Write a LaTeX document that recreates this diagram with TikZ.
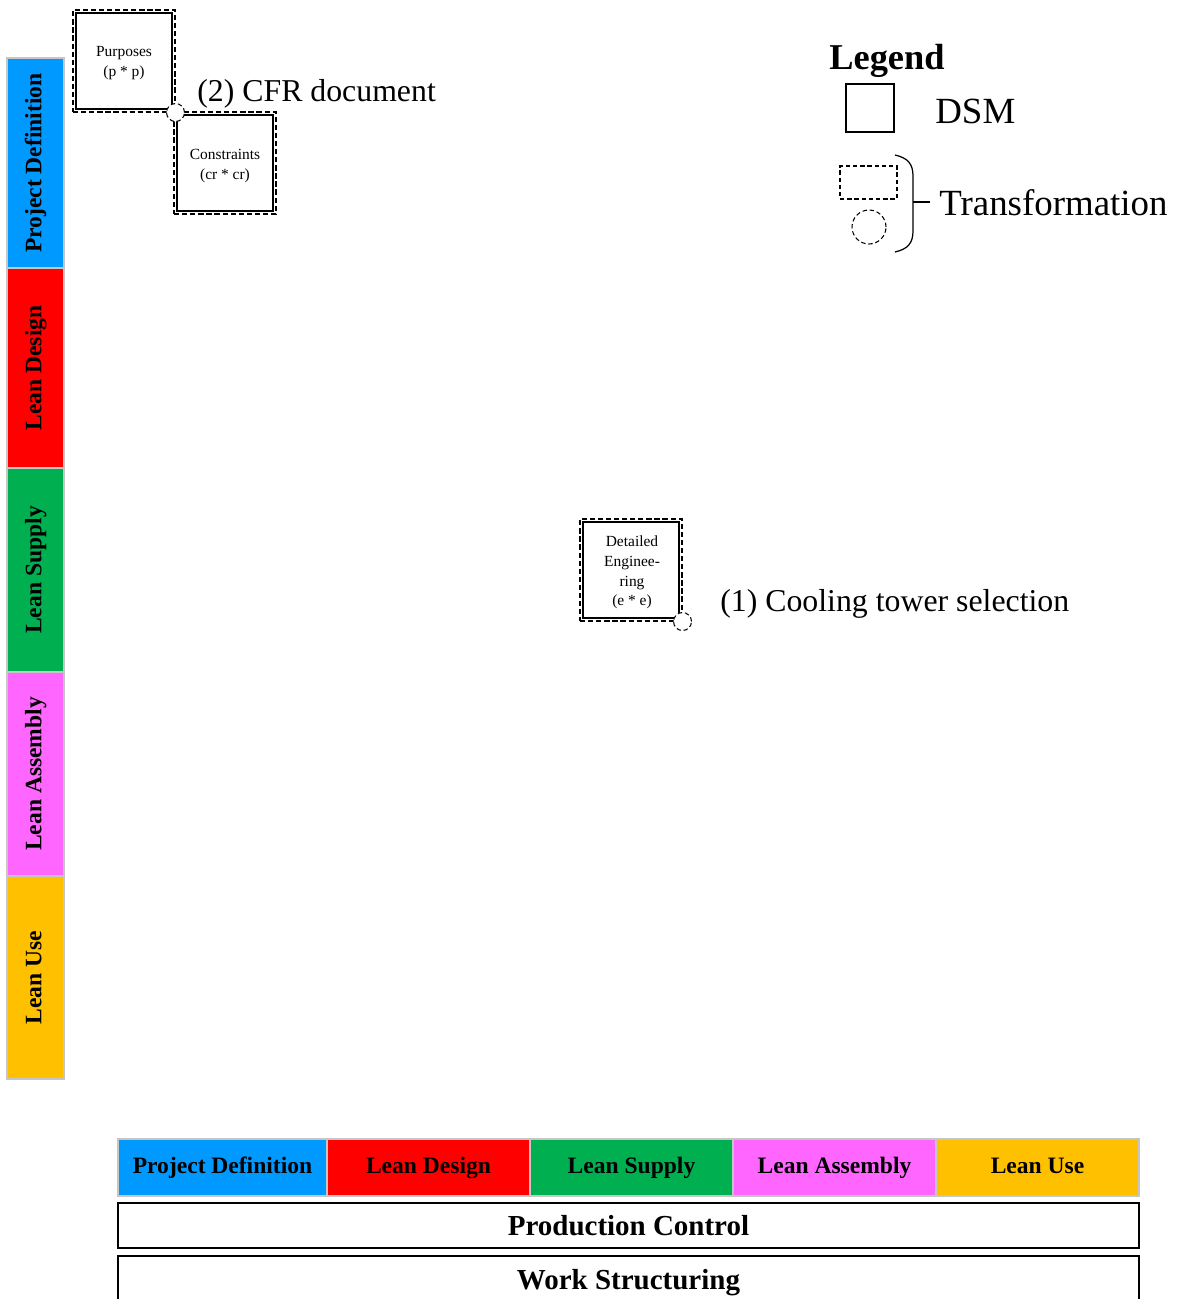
\documentclass[tikz,border=0pt]{standalone}
\usepackage{fontspec}
\setmainfont{Liberation Serif}
\usetikzlibrary{calc}

\definecolor{pdblue}{HTML}{0099FF}
\definecolor{ldred}{HTML}{FF0000}
\definecolor{lsgreen}{HTML}{00B050}
\definecolor{lapink}{HTML}{FF66FF}
\definecolor{luorange}{HTML}{FFC000}

\begin{document}
\begin{tikzpicture}[x=0.02cm, y=-0.02cm,
  phase/.style={draw=gray!45, line width=0.6pt, inner sep=0pt,
    text height=0.66em, text depth=0pt,
    font=\fontsize{13.4}{16}\selectfont\bfseries},
  hphase/.style={phase, minimum height=1.14cm},
  vphase/.style={phase, rotate=90, minimum height=1.14cm},
  band/.style={draw, line width=1.5pt, inner sep=0pt, minimum width=20.42cm,
    font=\fontsize{16.5}{19}\selectfont\bfseries},
  dsmbox/.style={draw, line width=0.6pt, minimum size=1.92cm, inner sep=0pt},
  dsmtext/.style={inner sep=0pt, align=center, font=\fontsize{8.8}{11.2}\selectfont},
  dsmframe/.style={draw, line width=0.6pt, dash pattern=on 3pt off 1.6pt,
    minimum size=2.04cm, inner sep=0pt},
  joint/.style={circle, draw, fill=white, line width=0.6pt,
    dash pattern=on 2.5pt off 1.6pt, minimum size=0.36cm, inner sep=0pt},
  caption/.style={anchor=west, inner sep=0pt, font=\fontsize{18.1}{21}\selectfont},
  legendtext/.style={anchor=west, inner sep=0pt, font=\fontsize{21}{24}\selectfont}
]
\useasboundingbox (0,0) rectangle (1178,1299);
\clip (0,0) rectangle (1178,1299);

% Vertical phase bar
\node[vphase, fill=pdblue,   minimum width=4.20cm] (vpd) at (35.5,163)   {Project Definition};
\node[vphase, fill=ldred,    minimum width=4.00cm] (vld) at (35.5,368)   {Lean Design};
\node[vphase, fill=lsgreen,  minimum width=4.08cm] (vls) at (35.5,570)   {Lean Supply};
\node[vphase, fill=lapink,   minimum width=4.08cm] (vla) at (35.5,774)   {Lean Assembly};
\node[vphase, fill=luorange, minimum width=4.06cm] (vlu) at (35.5,977.5) {Lean Use};

% Horizontal phase bar
\node[hphase, fill=pdblue,   minimum width=4.18cm] (hpd) at (222.5,1167.5)  {Project Definition};
\node[hphase, fill=ldred,    minimum width=4.06cm] (hld) at (428.5,1167.5)  {Lean Design};
\node[hphase, fill=lsgreen,  minimum width=4.06cm] (hls) at (631.5,1167.5)  {Lean Supply};
\node[hphase, fill=lapink,   minimum width=4.06cm] (hla) at (834.5,1167.5)  {Lean Assembly};
\node[hphase, fill=luorange, minimum width=4.06cm] (hlu) at (1037.5,1167.5) {Lean Use};

% Supporting layers
\node[band, minimum height=0.90cm] (pc) at (628.5,1225.5) {Production Control};
\node[band, minimum height=1.08cm] (ws) at (628.5,1283)   {Work Structuring};

% DSMs with their transformation frames
\node[dsmframe] (ppf) at (124,61) {};
\node[dsmbox] (pp) at (124,61) {};
\node[dsmtext] (ppt) at (124,63) {Purposes\\(p * p)};
\node[dsmframe] (crf) at (225,163) {};
\node[dsmbox] (cr) at (225,163) {};
\node[dsmtext] (crt) at (225,166) {Constraints\\(cr * cr)};
\node[joint] (j2) at (ppf.south east) {};

\node[dsmframe] (eef) at (631,570) {};
\node[dsmbox] (ee) at (631,570) {};
\node[dsmtext] (eet) at (632,572.5) {Detailed\\Enginee-\\ring\\(e * e)};
\node[joint] (j1) at (eef.south east) {};

\node[caption] (c2) at (197,94)  {(2) CFR document};
\node[caption] (c1) at (720,604) {(1) Cooling tower selection};

% Legend
\node[anchor=west, inner sep=0pt, font=\fontsize{20.7}{24}\selectfont\bfseries] (lg) at (829,61) {Legend};
\node[draw, line width=0.6pt, minimum size=0.96cm, inner sep=0pt] (lgdsm) at (870,108) {};
\node[legendtext] (lgdsmt) at (935,111) {DSM};
\node[draw, line width=0.6pt, dash pattern=on 2.5pt off 1.6pt, minimum width=1.14cm,
  minimum height=0.66cm, inner sep=0pt] (lgrect) at (868.5,182.5) {};
\node[circle, draw, line width=0.6pt, dash pattern=on 2.5pt off 1.6pt,
  minimum size=0.68cm, inner sep=0pt] (lgcirc) at (869,227) {};
\coordinate (bt) at (895,155);
\coordinate (bb) at (895,252);
\coordinate (bm) at (913,202);
\coordinate (bk) at (930,202);
\draw[line width=0.7pt] (bt) .. controls (908,158) and (913,164) .. (913,176)
  -- (913,231) .. controls (913,243) and (908,249) .. (bb);
\draw[line width=0.7pt] (bm) -- (bk);
\node[legendtext] (lgtr) at (939,203) {Transformation};
\end{tikzpicture}
\end{document}
